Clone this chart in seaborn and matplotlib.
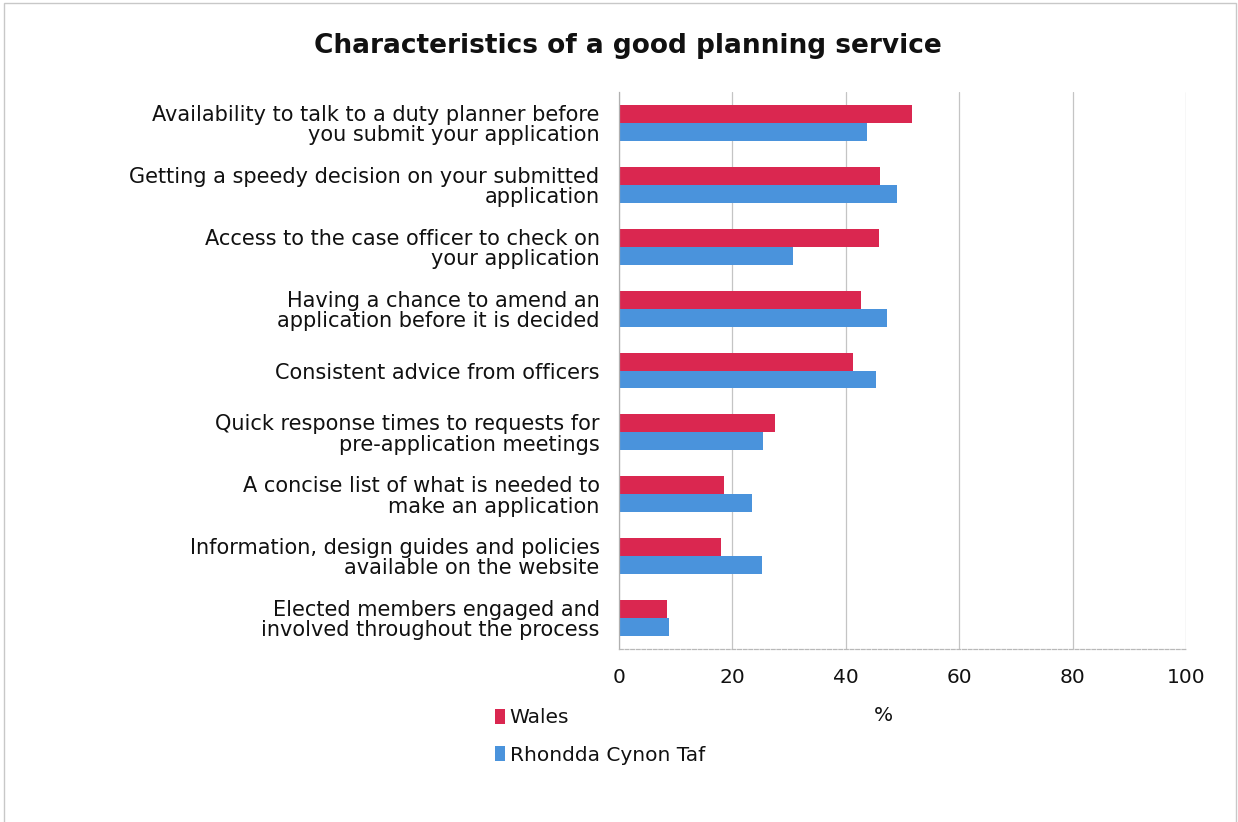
import matplotlib
matplotlib.use("Agg")
import matplotlib.pyplot as plt
from matplotlib.patches import Rectangle, Patch
import pandas as pd
import seaborn as sns

categories = [
    "Availability to talk to a duty planner before\nyou submit your application",
    "Getting a speedy decision on your submitted\napplication",
    "Access to the case officer to check on\nyour application",
    "Having a chance to amend an\napplication before it is decided",
    "Consistent advice from officers",
    "Quick response times to requests for\npre-application meetings",
    "A concise list of what is needed to\nmake an application",
    "Information, design guides and policies\navailable on the website",
    "Elected members engaged and\ninvolved throughout the process",
]
wales = [51.6, 46.1, 45.8, 42.6, 41.2, 27.6, 18.5, 18.0, 8.4]
rct = [43.8, 49.1, 30.7, 47.3, 45.4, 25.4, 23.5, 25.3, 8.9]
series_names = ["Wales", "Rhondda Cynon Taf"]
x_ticks = [0, 20, 40, 60, 80, 100]

colors = {"Wales": "#DA2750", "Rhondda Cynon Taf": "#4A93DC"}

df = pd.DataFrame({
    "category": categories * 2,
    "value": wales + rct,
    "series": [series_names[0]] * len(categories) + [series_names[1]] * len(categories),
})

sns.set_theme(style="white")
plt.rcParams["font.family"] = ["DejaVu Sans"]

fig = plt.figure(figsize=(12.38, 8.22), dpi=100)
ax = fig.add_axes([0.5, 0.2105, 0.458, 0.6775])

sns.barplot(data=df, y="category", x="value", hue="series", orient="h",
            palette=colors, width=0.58, saturation=1, ax=ax, legend=False,
            order=categories, hue_order=series_names, linewidth=0)

ax.set_xlim(0, 100)
ax.set_xticks(x_ticks)
ax.set_xticklabels([str(t) for t in x_ticks], fontsize=14.5, color="#111111")
ax.set_ylim(len(categories) - 0.5, -0.5)
ax.set_ylabel("")
ax.set_xlabel("%", fontsize=14.5, color="#111111")
ax.xaxis.set_label_coords(0.467, -0.102)

ax.tick_params(axis="y", length=0, pad=14, labelsize=15, labelcolor="#111111")
ax.tick_params(axis="x", length=6, width=0.8, color="#b0b0b0", pad=7.5, direction="out")
for lbl in ax.get_yticklabels():
    lbl.set_horizontalalignment("right")
    lbl.set_multialignment("right")
    lbl.set_linespacing(1.02)

ax.xaxis.grid(True, color="#c4c4c4", linewidth=0.9)
ax.set_axisbelow(True)
for side in ["top", "right"]:
    ax.spines[side].set_visible(False)
ax.spines["left"].set_color("#b0b0b0")
ax.spines["left"].set_linewidth(0.9)
ax.spines["bottom"].set_color("#b8b8b8")
ax.spines["bottom"].set_linewidth(0.9)
ax.spines["bottom"].set_linestyle((0, (3, 1.5)))

fig.text(0.507, 0.944, "Characteristics of a good planning service",
         ha="center", va="center", fontsize=19, fontweight="bold", color="#111111")

handles = [Patch(facecolor=colors[s], edgecolor="none") for s in series_names]
fig.legend(handles, series_names, loc="upper left", bbox_to_anchor=(0.393, 0.148),
           frameon=False, fontsize=14.5, handlelength=0.5, handleheight=0.8,
           handletextpad=0.25, labelspacing=0.9, borderaxespad=0,
           labelcolor="#111111")

fig.patches.append(Rectangle((0.003, -0.01), 0.995, 1.006, transform=fig.transFigure,
                             fill=False, edgecolor="#c8c8c8", linewidth=1.0))

fig.savefig("out.png", dpi=100, facecolor="white")
